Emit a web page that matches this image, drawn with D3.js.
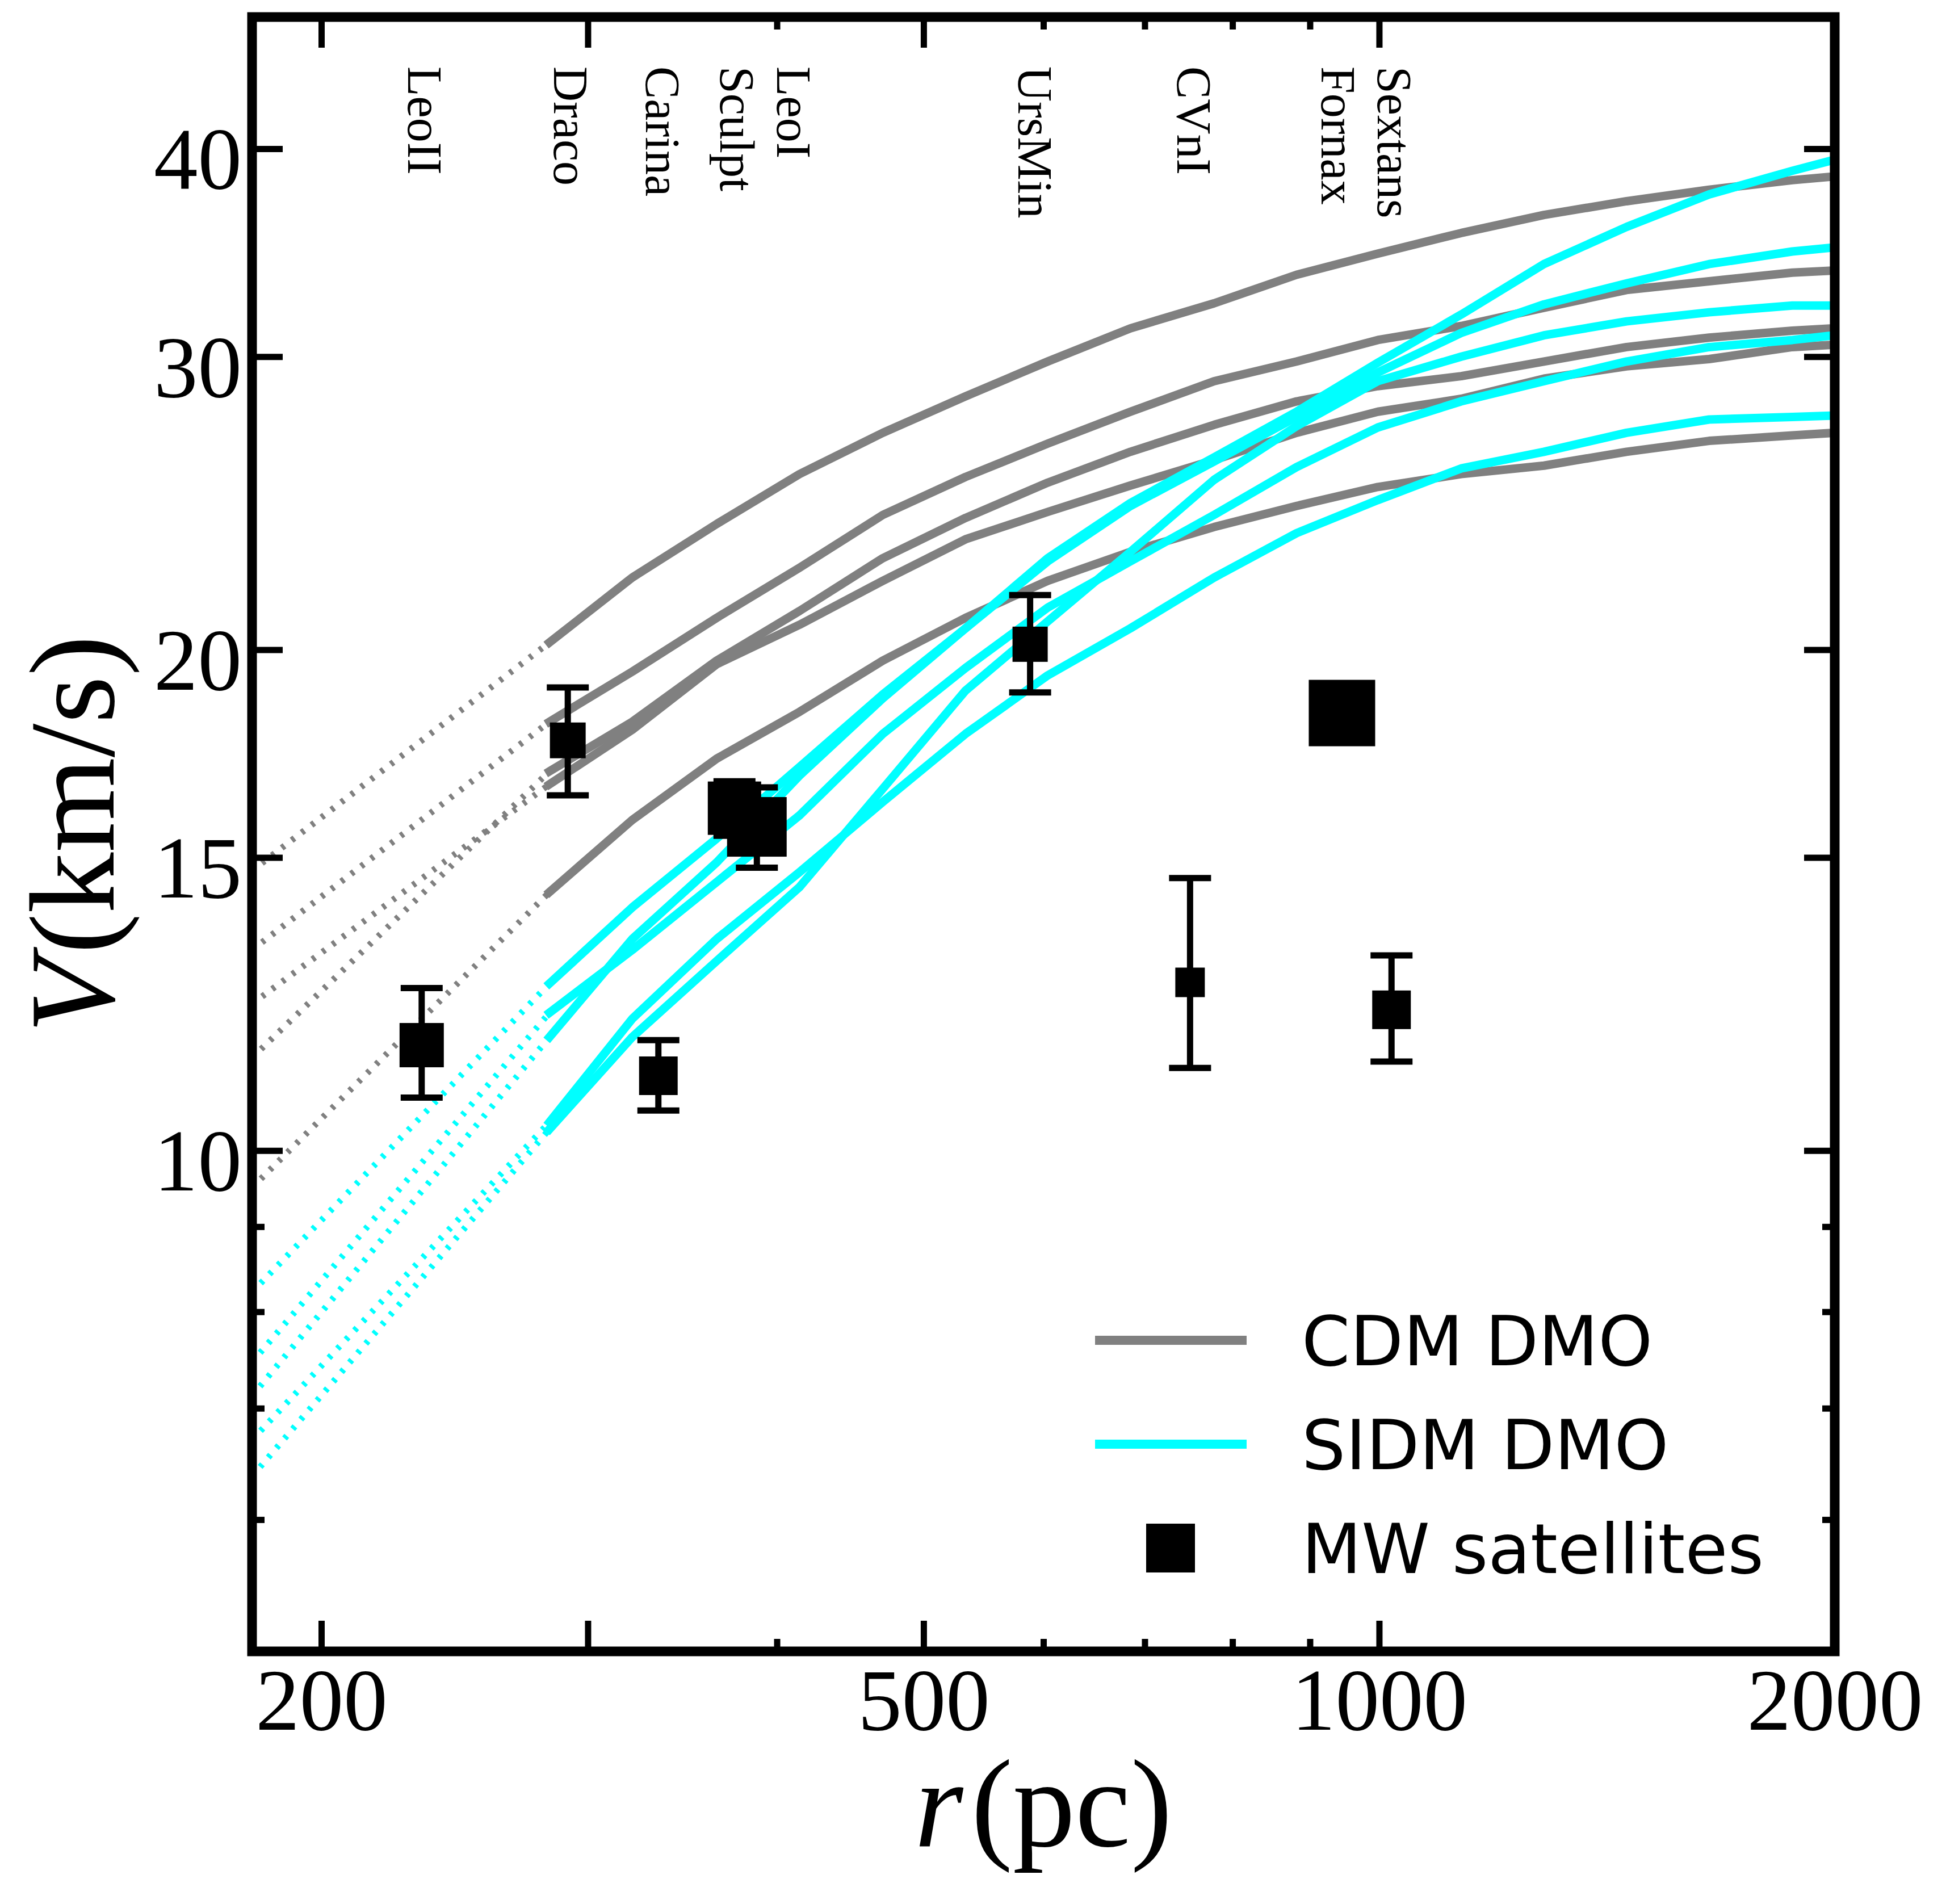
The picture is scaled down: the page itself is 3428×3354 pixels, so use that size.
<!DOCTYPE html>
<html>
<head>
<meta charset="utf-8">
<script src="https://cdn.jsdelivr.net/npm/d3@7"></script>
<style>
  html, body { margin: 0; padding: 0; background: #ffffff; }
  svg { display: block; }
</style>
</head>
<body>
<svg id="chart" width="3428" height="3354"></svg>
<script>
// ---------------- data ----------------
// radial grid (pc) of the simulated circular-velocity curves
const radii = [283, 321, 365, 414, 470, 533, 604, 685, 778, 882, 998, 1133, 1285, 1457, 1652, 1875, 2000];

// CDM DMO curves, V (km/s) at each radius
const cdm1 = [20.2, 22.1, 23.8, 25.5, 27.0, 28.4, 29.8, 31.2, 32.3, 33.6, 34.6, 35.6, 36.5, 37.2, 37.8, 38.3, 38.5];
const cdm2 = [18.1, 19.4, 20.9, 22.4, 24.1, 25.4, 26.6, 27.8, 29.0, 29.8, 30.7, 31.3, 32.1, 32.9, 33.3, 33.7, 33.8];
const cdm3 = [16.9, 18.1, 19.7, 21.1, 22.7, 24.0, 25.2, 26.3, 27.3, 28.2, 28.8, 29.2, 29.8, 30.4, 30.8, 31.1, 31.2];
const cdm4 = [16.6, 17.9, 19.6, 20.7, 22.0, 23.3, 24.2, 25.1, 26.0, 27.0, 27.8, 28.3, 29.1, 29.6, 29.9, 30.4, 30.5];
const cdm5 = [14.3, 15.8, 17.2, 18.35, 19.7, 20.9, 22.0, 22.9, 23.7, 24.4, 25.05, 25.5, 25.8, 26.3, 26.7, 26.9, 27.0];

// SIDM DMO curves
const sidm1 = [12.6, 14.0, 15.4, 17.0, 18.8, 20.6, 22.7, 24.5, 26.1, 27.8, 29.75, 31.8, 34.1, 35.9, 37.55, 38.8, 39.4];
const sidm2 = [11.7, 13.4, 14.9, 16.8, 18.7, 20.6, 22.6, 24.4, 25.95, 27.6, 29.35, 31.0, 32.25, 33.2, 34.1, 34.7, 34.9];
const sidm3 = [12.1, 13.2, 14.5, 15.9, 17.8, 19.5, 21.2, 22.6, 24.1, 25.75, 27.2, 28.2, 29.0, 29.8, 30.4, 30.7, 30.9];
const sidm4 = [10.3, 11.7, 13.0, 14.4, 16.5, 18.9, 20.8, 22.9, 25.3, 27.25, 29.0, 30.0, 30.9, 31.5, 31.9, 32.2, 32.2];
const sidm5 = [10.4, 12.0, 13.4, 14.7, 16.2, 17.8, 19.3, 20.6, 22.1, 23.5, 24.6, 25.7, 26.3, 27.0, 27.5, 27.6, 27.65];

// unresolved inner part (dotted): V at the inner radius, one per curve
const innerR = 180;
const cdmInnerV = [14.73, 13.20, 11.37, 12.25, 9.50];
const sidmInnerV = [8.22, 7.12, 7.46, 6.37, 6.70];

// Milky Way satellites
const satNames = ["LeoII", "Draco", "Carina", "Sculpt", "LeoI", "UrsMin", "CVnI", "Fornax", "Sextans"];
const satR     = [233, 291, 334, 375, 388, 588, 750, 945, 1019];
const satV     = [11.57, 17.64, 11.09, 16.06, 15.65, 20.15, 12.62, 18.32, 12.15];
const satVlo   = [10.76, 16.35, 10.57, 15.46, 14.79, 18.85, 11.21, 17.90, 11.31];
const satVhi   = [12.52, 18.98, 11.65, 16.67, 16.53, 21.57, 14.58, 18.75, 13.10];
const satWeight = [78, 63, 68, 94, 105, 62, 52, 117, 68];   // marker side (px)
const labelR   = [234, 292, 336, 376, 410, 592, 754, 939, 1023];

// axes
const xMajorTicks = [200, 300, 500, 1000, 2000];
const xLabelTicks = [200, 500, 1000, 2000];
const xMinorTicks = [400, 600, 700, 800, 900];
const yMajorTicks = [10, 15, 20, 30, 40];
const yMinorTicks = [6, 7, 8, 9];

const legendLabels = ["CDM DMO", "SIDM DMO", "MW satellites"];

// ---------------- drawing ----------------
const W = 3428, H = 3354;
const L = 444, R = 3232, T = 30, B = 2909;
const GREY = "#808080", CYAN = "#00ffff";
const SERIF = "'Liberation Serif', 'Times New Roman', serif";
const SANS = "'DejaVu Sans', sans-serif";

const svg = d3.select("#chart");
svg.append("rect").attr("width", W).attr("height", H).attr("fill", "#ffffff");

const x = d3.scaleLog().domain([180, 2000]).range([L, R]);
const y = d3.scaleLog().domain([5, 48]).range([B, T]);

svg.append("defs").append("clipPath").attr("id", "plotClip")
  .append("rect").attr("x", L).attr("y", T).attr("width", R - L).attr("height", B - T);

const plot = svg.append("g").attr("clip-path", "url(#plotClip)");
const line = d3.line().x(d => x(d[0])).y(d => y(d[1]));

function drawSet(curves, innerV, color) {
  curves.forEach((vals, i) => {
    plot.append("path")
      .datum([[innerR, innerV[i]], [radii[0], vals[0]]])
      .attr("d", line)
      .attr("fill", "none")
      .attr("stroke", color)
      .attr("stroke-width", 11)
      .attr("stroke-dasharray", "6 16");
  });
  curves.forEach(vals => {
    plot.append("path")
      .datum(radii.map((r, j) => [r, vals[j]]))
      .attr("d", line)
      .attr("fill", "none")
      .attr("stroke", color)
      .attr("stroke-width", 15)
      .attr("stroke-linejoin", "round")
      .attr("stroke-linecap", "square");
  });
}
drawSet([cdm1, cdm2, cdm3, cdm4, cdm5], cdmInnerV, GREY);
drawSet([sidm1, sidm2, sidm3, sidm4, sidm5], sidmInnerV, CYAN);

// error bars + markers
const sats = satNames.map((n, i) => ({ n, r: satR[i], v: satV[i], lo: satVlo[i], hi: satVhi[i], s: satWeight[i] }));
const eg = plot.append("g");
const capHalf = 37;
sats.forEach(d => {
  const cx = x(d.r);
  eg.append("line").attr("x1", cx).attr("x2", cx).attr("y1", y(d.lo)).attr("y2", y(d.hi))
    .attr("stroke", "#000").attr("stroke-width", 11);
  [d.lo, d.hi].forEach(v => {
    eg.append("line").attr("x1", cx - capHalf).attr("x2", cx + capHalf).attr("y1", y(v)).attr("y2", y(v))
      .attr("stroke", "#000").attr("stroke-width", 11);
  });
});
plot.append("g").selectAll("rect").data(sats).join("rect")
  .attr("x", d => x(d.r) - d.s / 2)
  .attr("y", d => y(d.v) - d.s / 2)
  .attr("width", d => d.s)
  .attr("height", d => d.s)
  .attr("fill", "#000");

// satellite names (rotated)
svg.append("g").selectAll("text").data(satNames).join("text")
  .attr("transform", (d, i) => `translate(${x(labelR[i])},${T + 87}) rotate(90)`)
  .attr("dy", "0.33em")
  .attr("font-family", SERIF)
  .attr("font-size", 86)
  .attr("fill", "#000")
  .text(d => d);

// axes (inward ticks on all four sides)
function styleAxis(g, labels) {
  g.select(".domain").remove();
  g.selectAll(".tick line").attr("stroke", "#000").attr("stroke-width", 11);
  g.selectAll(".tick text")
    .attr("font-family", SERIF)
    .attr("font-size", 155)
    .attr("fill", "#000");
  if (!labels) g.selectAll(".tick text").remove();
}
const fmtX = d => (xLabelTicks.includes(d) ? String(d) : "");
const fmtY = d => String(d);

svg.append("g").attr("transform", `translate(0,${B})`)
  .call(d3.axisBottom(x).tickValues(xMajorTicks).tickFormat(fmtX).tickSizeInner(-54).tickSizeOuter(0).tickPadding(28))
  .call(g => styleAxis(g, true));
svg.append("g").attr("transform", `translate(0,${B})`)
  .call(d3.axisBottom(x).tickValues(xMinorTicks).tickFormat(() => "").tickSizeInner(-22).tickSizeOuter(0))
  .call(g => styleAxis(g, false));
svg.append("g").attr("transform", `translate(0,${T})`)
  .call(d3.axisTop(x).tickValues(xMajorTicks).tickFormat(() => "").tickSizeInner(-54).tickSizeOuter(0))
  .call(g => styleAxis(g, false));
svg.append("g").attr("transform", `translate(0,${T})`)
  .call(d3.axisTop(x).tickValues(xMinorTicks).tickFormat(() => "").tickSizeInner(-22).tickSizeOuter(0))
  .call(g => styleAxis(g, false));

const yl = svg.append("g").attr("transform", `translate(${L},0)`)
  .call(d3.axisLeft(y).tickValues(yMajorTicks).tickFormat(fmtY).tickSizeInner(-54).tickSizeOuter(0).tickPadding(18))
  .call(g => styleAxis(g, true));
yl.selectAll(".tick text").attr("dy", "0.45em");
svg.append("g").attr("transform", `translate(${L},0)`)
  .call(d3.axisLeft(y).tickValues(yMinorTicks).tickFormat(() => "").tickSizeInner(-22).tickSizeOuter(0))
  .call(g => styleAxis(g, false));
svg.append("g").attr("transform", `translate(${R},0)`)
  .call(d3.axisRight(y).tickValues(yMajorTicks).tickFormat(() => "").tickSizeInner(-54).tickSizeOuter(0))
  .call(g => styleAxis(g, false));
svg.append("g").attr("transform", `translate(${R},0)`)
  .call(d3.axisRight(y).tickValues(yMinorTicks).tickFormat(() => "").tickSizeInner(-22).tickSizeOuter(0))
  .call(g => styleAxis(g, false));

// frame
svg.append("rect").attr("x", L).attr("y", T).attr("width", R - L).attr("height", B - T)
  .attr("fill", "none").attr("stroke", "#000").attr("stroke-width", 17);

// axis titles
const yt = svg.append("text")
  .attr("transform", `translate(200,${(T + B) / 2}) rotate(-90)`)
  .attr("text-anchor", "middle")
  .attr("font-family", SERIF).attr("font-size", 215).attr("fill", "#000");
yt.append("tspan").attr("font-style", "italic").text("V");
yt.append("tspan").attr("dx", 8).text("(km/s)");

const xt = svg.append("text")
  .attr("x", (L + R) / 2).attr("y", 3252)
  .attr("text-anchor", "middle")
  .attr("font-family", SERIF).attr("font-size", 220).attr("fill", "#000");
xt.append("tspan").attr("font-style", "italic").text("r");
xt.append("tspan").attr("dx", 14).text("(pc)");

// legend
const lg = svg.append("g");
const legendY = [2361, 2544, 2727];
[GREY, CYAN].forEach((c, i) => {
  lg.append("line").attr("x1", 1929).attr("x2", 2196).attr("y1", legendY[i]).attr("y2", legendY[i])
    .attr("stroke", c).attr("stroke-width", 16);
});
lg.append("rect").attr("x", 2062 - 43).attr("y", legendY[2] - 43).attr("width", 86).attr("height", 86).attr("fill", "#000");
lg.selectAll("text").data(legendLabels).join("text")
  .attr("x", 2293)
  .attr("y", (d, i) => legendY[i] + 44)
  .attr("font-family", SANS)
  .attr("font-size", 122)
  .attr("fill", "#000")
  .text(d => d);
</script>
</body>
</html>
